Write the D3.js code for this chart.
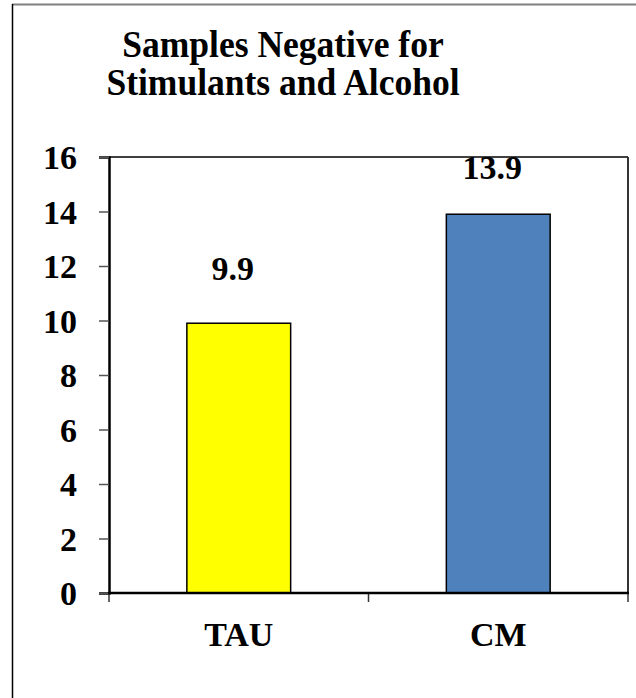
<!DOCTYPE html>
<html>
<head>
<meta charset="utf-8">
<script src="https://cdn.jsdelivr.net/npm/d3@7"></script>
<style>
  html, body { margin: 0; padding: 0; background: #fff; }
  svg { display: block; }
</style>
</head>
<body>
<script>
const titleLines = ["Samples Negative for", "Stimulants and Alcohol"];
const categories = ["TAU", "CM"];
const values = [9.9, 13.9];
const barColors = ["#FFFF00", "#4F81BD"];
const yTicks = [0, 2, 4, 6, 8, 10, 12, 14, 16];

const FONT = "'Liberation Serif', 'Times New Roman', Times, 'DejaVu Serif', serif";
const W = 636, H = 698;
const m = { left: 109, right: 8, top: 157, bottom: 105 };
const pw = W - m.left - m.right, ph = H - m.top - m.bottom;

const svg = d3.select("body").append("svg").attr("width", W).attr("height", H);

function styleText(sel, size) {
  sel.style("font-family", FONT).style("font-weight", "bold").style("font-size", size + "px")
     .attr("fill", "#000");
}

// outer chart border
svg.append("line").attr("x1", 12).attr("x2", W).attr("y1", 4.5).attr("y2", 4.5)
  .attr("stroke", "#808080").attr("stroke-width", 2);
svg.append("line").attr("x1", 12.5).attr("x2", 12.5).attr("y1", 4).attr("y2", H)
  .attr("stroke", "#000").attr("stroke-width", 1.5);

// title (slightly stretched vertically as in the reference)
const sy = 1.06;
const title = svg.append("text").attr("text-anchor", "middle")
  .attr("transform", `scale(1,${sy})`).call(styleText, 35.5);
titleLines.forEach((t, i) => {
  title.append("tspan").attr("x", 283).attr("y", (57 + i * 38) / sy).text(t);
});

const y = d3.scaleLinear().domain([0, 16]).range([m.top + ph, m.top]);
const x = d3.scaleBand().domain(categories).range([m.left, m.left + pw]).padding(0);

const g = svg.append("g");

// plot frame: top and right
g.append("line").attr("x1", m.left).attr("x2", m.left + pw).attr("y1", m.top).attr("y2", m.top)
  .attr("stroke", "#000").attr("stroke-width", 1.5);
g.append("line").attr("x1", m.left + pw).attr("x2", m.left + pw).attr("y1", m.top).attr("y2", m.top + ph)
  .attr("stroke", "#333").attr("stroke-width", 2);

// bars
const barFrac = 0.4;
const bw = x.bandwidth() * barFrac;
g.selectAll("rect.bar").data(categories).join("rect")
  .attr("class", "bar")
  .attr("x", d => x(d) + (x.bandwidth() - bw) / 2)
  .attr("y", (d, i) => y(values[i]))
  .attr("width", bw)
  .attr("height", (d, i) => y(0) - y(values[i]))
  .attr("fill", (d, i) => barColors[i])
  .attr("stroke", "#000").attr("stroke-width", 1.5);

// value labels (kept inside plot area)
g.selectAll("text.val").data(categories).join("text")
  .attr("class", "val")
  .attr("text-anchor", "middle")
  .call(styleText, 34)
  .attr("x", d => x(d) + x.bandwidth() / 2 - 6)
  .attr("y", (d, i) => Math.max(y(values[i]) - 43, m.top + 22))
  .text((d, i) => values[i].toFixed(1));

// y axis
const yAxis = d3.axisLeft(y).tickValues(yTicks).tickSize(10).tickPadding(22).tickFormat(d3.format("d"));
const ya = g.append("g").attr("transform", `translate(${m.left},0)`).call(yAxis)
  .attr("font-family", null).attr("font-size", null);
ya.select(".domain").attr("stroke", "#000").attr("stroke-width", 2.5);
ya.selectAll(".tick line").attr("stroke", "#555").attr("stroke-width", 1.5);
ya.selectAll(".tick text").call(styleText, 34).attr("dy", "0.35em");

// x axis: labels centered in bands, ticks at band boundaries
const xAxis = d3.axisBottom(x).tickSize(0).tickPadding(29);
const xa = g.append("g").attr("transform", `translate(0,${m.top + ph})`).call(xAxis)
  .attr("font-family", null).attr("font-size", null);
xa.select(".domain").remove();
xa.selectAll(".tick text").call(styleText, 34);
const bounds = [x(categories[0])].concat(categories.map(c => x(c) + x.bandwidth()));
g.selectAll("line.xtick").data(bounds).join("line")
  .attr("class", "xtick")
  .attr("x1", d => d).attr("x2", d => d)
  .attr("y1", m.top + ph).attr("y2", m.top + ph + 9)
  .attr("stroke", "#333").attr("stroke-width", 1.5);
g.append("line").attr("x1", m.left - 1).attr("x2", m.left + pw + 1)
  .attr("y1", m.top + ph).attr("y2", m.top + ph)
  .attr("stroke", "#000").attr("stroke-width", 2.5);
</script>
</body>
</html>
